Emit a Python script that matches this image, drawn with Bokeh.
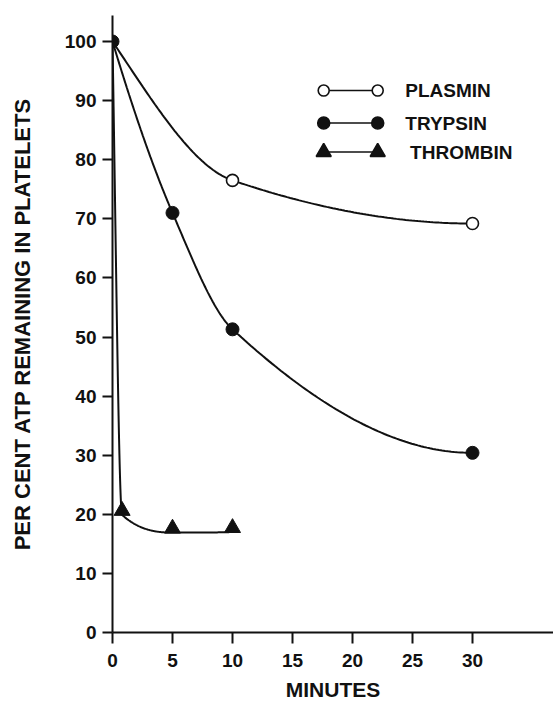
import numpy as np
from bokeh.plotting import figure
from bokeh.models import Range1d, FixedTicker, ColumnDataSource
from bokeh.core.properties import value
from bokeh.transform import dodge
from bokeh.embed import file_html
from bokeh.resources import INLINE

# ---- data ----
plasmin_min = [0, 10, 30]
plasmin_atp = [100, 76.5, 69.2]
trypsin_min = [0, 5, 10, 30]
trypsin_atp = [100, 71.0, 51.3, 30.4]
thrombin_min = [0, 0.8, 5, 10]
thrombin_atp = [100, 19.9, 16.9, 17.0]
x_ticks = [0, 5, 10, 15, 20, 25, 30]
y_ticks = [0, 10, 20, 30, 40, 50, 60, 70, 80, 90, 100]
legend_names = ["PLASMIN", "TRYPSIN", "THROMBIN"]

# legend layout (data-space positions for the hand-drawn key)
LEG_X = [17.6, 22.1]
LEG_Y = [91.7, 86.2, 81.3]
LEG_TEXT_X = [24.4, 24.4, 24.8]

FONT = "Liberation Sans"
INK = "#111111"


def pchip(xk, yk, per_seg=80):
    """Monotone cubic curve through the data points (for drawing only)."""
    xk = np.asarray(xk, float)
    yk = np.asarray(yk, float)
    h = np.diff(xk)
    d = np.diff(yk) / h
    n = len(xk)
    m = np.zeros(n)
    for k in range(1, n - 1):
        if d[k - 1] * d[k] > 0:
            w1 = 2 * h[k] + h[k - 1]
            w2 = h[k] + 2 * h[k - 1]
            m[k] = (w1 + w2) / (w1 / d[k - 1] + w2 / d[k])

    def end(h0, h1, d0, d1):
        s = ((2 * h0 + h1) * d0 - h0 * d1) / (h0 + h1)
        if np.sign(s) != np.sign(d0):
            s = 0.0
        elif np.sign(d0) != np.sign(d1) and abs(s) > abs(3 * d0):
            s = 3 * d0
        return s

    m[0] = end(h[0], h[1], d[0], d[1])
    m[-1] = end(h[-1], h[-2], d[-1], d[-2])
    xs_all, ys_all = [], []
    for i in range(n - 1):
        t = np.linspace(0, 1, per_seg)
        h00 = 2 * t**3 - 3 * t**2 + 1
        h10 = t**3 - 2 * t**2 + t
        h01 = -2 * t**3 + 3 * t**2
        h11 = t**3 - t**2
        ys = h00 * yk[i] + h10 * h[i] * m[i] + h01 * yk[i + 1] + h11 * h[i] * m[i + 1]
        xs = xk[i] + t * h[i]
        xs_all.append(xs)
        ys_all.append(ys)
    return np.concatenate(xs_all), np.concatenate(ys_all)


p = figure(width=553, height=703,
           x_range=Range1d(0, 36.75), y_range=Range1d(0, 104.4),
           output_backend="svg", toolbar_location=None,
           min_border_left=112, min_border_right=0,
           min_border_top=15, min_border_bottom=69)
p.outline_line_color = None
p.xgrid.grid_line_color = None
p.ygrid.grid_line_color = None
p.background_fill_color = "white"
p.border_fill_color = "white"

for ax in (p.xaxis[0], p.yaxis[0]):
    ax.axis_line_width = 2
    ax.axis_line_color = INK
    ax.major_tick_line_width = 2
    ax.major_tick_line_color = INK
    ax.major_tick_in = 0
    ax.minor_tick_line_color = None
    ax.major_label_text_font = FONT
    ax.major_label_text_font_style = "bold"
    ax.major_label_text_font_size = "19px"
    ax.major_label_text_color = INK
    ax.axis_label_text_font = FONT
    ax.axis_label_text_font_style = "bold"
    ax.axis_label_text_color = INK

p.xaxis.ticker = FixedTicker(ticks=x_ticks)
p.yaxis.ticker = FixedTicker(ticks=y_ticks)
p.xaxis.major_tick_out = 11
p.yaxis.major_tick_out = 10
p.xaxis.major_label_standoff = 10
p.yaxis.major_label_standoff = 6
p.xaxis.axis_label = "MINUTES"
p.xaxis.axis_label_text_font_size = "21px"
p.xaxis.axis_label_standoff = 8
p.yaxis.axis_label = "PER CENT ATP REMAINING IN PLATELETS"
p.yaxis.axis_label_text_font_size = "22px"
p.yaxis.axis_label_standoff = 27

# smooth curves through the data
for xk, yk in ((plasmin_min, plasmin_atp), (trypsin_min, trypsin_atp), (thrombin_min, thrombin_atp)):
    cx, cy = pchip(xk, yk)
    p.line(cx, cy, line_color=INK, line_width=2)

# markers (the shared 0-minute point is drawn once, as a filled circle)
p.scatter(plasmin_min[1:], plasmin_atp[1:], marker="circle", size=12,
          fill_color="white", line_color=INK, line_width=1.6)
tri_src = ColumnDataSource(dict(x=thrombin_min[1:], y=thrombin_atp[1:]))
p.scatter(x="x", y=dodge("y", 0.7, range=p.y_range), source=tri_src,
          marker="triangle", size=16, fill_color=INK, line_color=INK)
p.scatter(trypsin_min, trypsin_atp, marker="circle", size=13,
          fill_color=INK, line_color=INK)

# hand-drawn key
markers = [("circle", "white", 11), ("circle", INK, 12), ("triangle", INK, 15)]
for (mk, fc, sz), ly in zip(markers, LEG_Y):
    p.line(LEG_X, [ly, ly], line_color=INK, line_width=1.6)
    p.scatter(LEG_X, [ly, ly], marker=mk, size=sz, fill_color=fc,
              line_color=INK, line_width=1.6)
p.text(x=LEG_TEXT_X, y=LEG_Y, text=legend_names,
       text_font=value(FONT), text_font_style="bold", text_font_size="19px",
       text_color=INK, text_baseline="middle", text_align="left")

open("out.html", "w").write(file_html(p, INLINE))
